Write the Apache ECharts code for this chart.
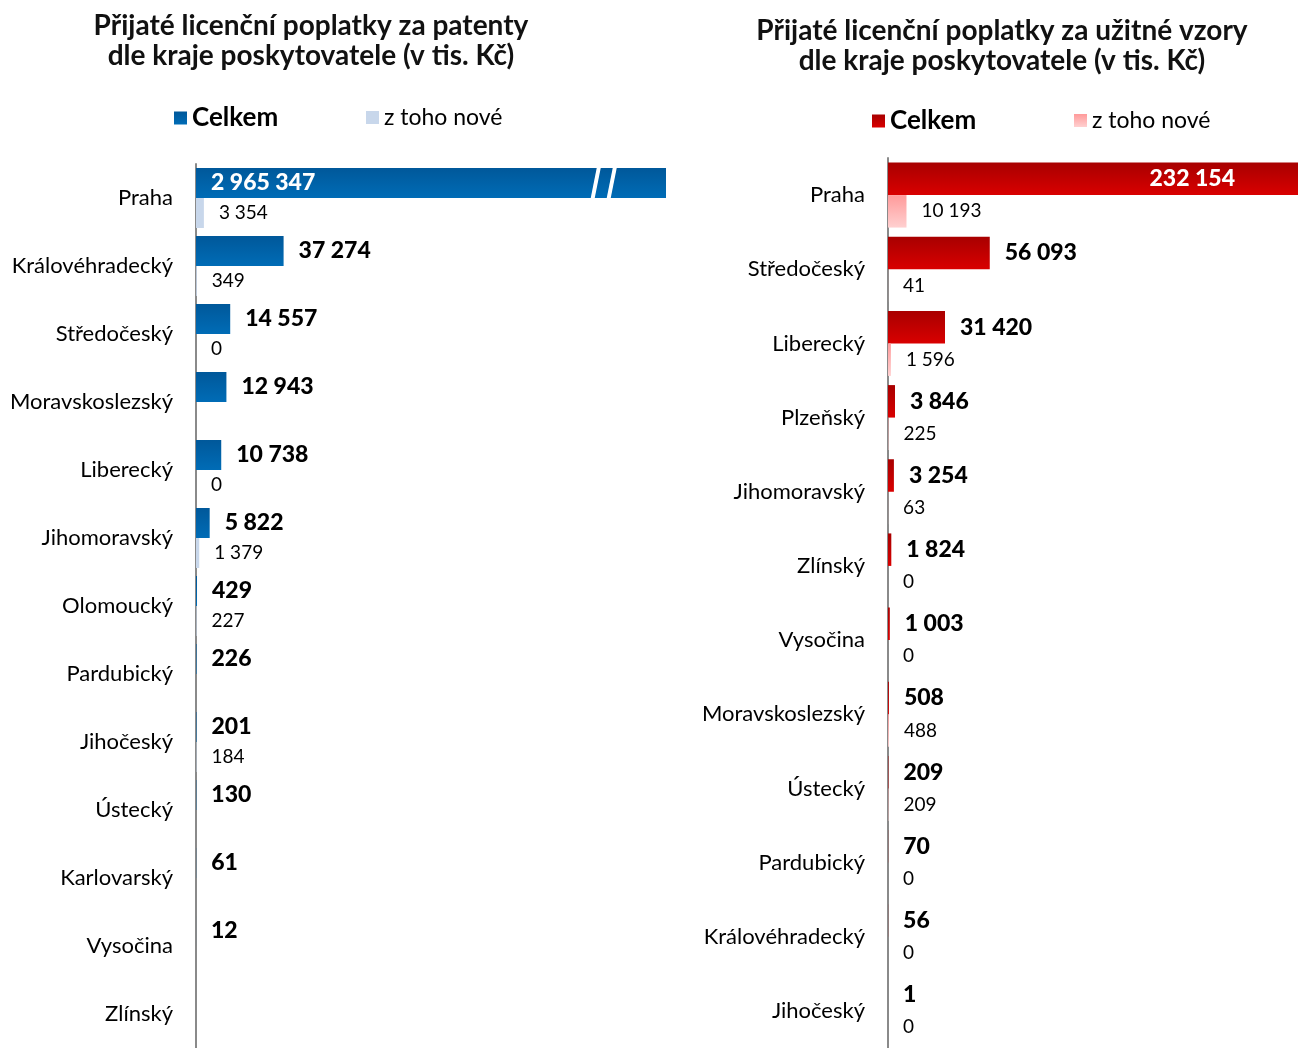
<!DOCTYPE html>
<html>
<head>
<meta charset="utf-8">
<script src="https://cdn.jsdelivr.net/npm/echarts@6/dist/echarts.min.js"></script>
<style>
html,body{margin:0;padding:0;background:#fff;}
#chart{width:1298px;height:1048px;}
</style>
</head>
<body>
<div id="chart"></div>
<script>
// ---- data ----
const leftTitle = 'Přijaté licenční poplatky za patenty\ndle kraje poskytovatele (v tis. Kč)';
const rightTitle = 'Přijaté licenční poplatky za užitné vzory\ndle kraje poskytovatele (v tis. Kč)';
const seriesNames = ['Celkem', 'z toho nové'];

const leftCategories = ['Praha','Královéhradecký','Středočeský','Moravskoslezský','Liberecký','Jihomoravský','Olomoucký','Pardubický','Jihočeský','Ústecký','Karlovarský','Vysočina','Zlínský'];
const leftTotal = [2965347, 37274, 14557, 12943, 10738, 5822, 429, 226, 201, 130, 61, 12, null];
const leftNew   = [3354, 349, 0, null, 0, 1379, 227, null, 184, null, null, null, null];
const leftAxisMax = 200000;      // axis is broken for Praha
const leftBreakValue = 173500;   // where the break marks sit on the Praha bar

const rightCategories = ['Praha','Středočeský','Liberecký','Plzeňský','Jihomoravský','Zlínský','Vysočina','Moravskoslezský','Ústecký','Pardubický','Královéhradecký','Jihočeský'];
const rightTotal = [232154, 56093, 31420, 3846, 3254, 1824, 1003, 508, 209, 70, 56, 1];
const rightNew   = [10193, 41, 1596, 225, 63, 0, 0, 488, 209, 0, 0, 0];
const rightAxisMax = 226000;

// ---- helpers ----
const FONT = 'Lato, "Open Sans", sans-serif';
function fmt(v) {
  const n = (typeof v === 'object' && v !== null) ? v.value : v;
  return String(Math.round(n)).replace(/\B(?=(\d{3})+(?!\d))/g, ' ');
}
function grad(top, bottom) {
  return new echarts.graphic.LinearGradient(0, 0, 0, 1, [
    {offset: 0, color: top}, {offset: 1, color: bottom}
  ]);
}
const blueTotal = grad('#00589a', '#006cb6');
const blueNew = '#c8d7eb';
const redTotal = grad('#a80000', '#d90000');
const redNew = grad('#ff9a9a', '#ffd0d0');

const totalLabel = {
  show: true, position: 'right', distance: 15,
  fontFamily: FONT, fontSize: 23, fontWeight: 900, color: '#000',
  formatter: p => fmt(p.value)
};
const newLabel = {
  show: true, position: 'right', distance: 15,
  fontFamily: FONT, fontSize: 19, color: '#000',
  formatter: p => fmt(p.value)
};

const chart = echarts.init(document.getElementById('chart'));

const catAxisCommon = {
  type: 'category', inverse: true,
  axisTick: {show: false},
  axisLine: {show: true, lineStyle: {color: '#8a8a8a', width: 2}},
  axisLabel: {fontFamily: FONT, fontSize: 22, color: '#000', margin: 23},
  splitLine: {show: false}
};

const titleStyle = {fontFamily: FONT, fontSize: 28, fontWeight: 'bold', color: '#111', lineHeight: 30};

const option = {
  animation: false,
  backgroundColor: '#fff',
  title: [
    {text: leftTitle, left: 311, top: 11, textAlign: 'center', padding: 0, textStyle: titleStyle},
    {text: rightTitle, left: 1002, top: 16, textAlign: 'center', padding: 0, textStyle: titleStyle}
  ],
  legend: [
    {data: [{name: 'L_total', textStyle: {fontWeight: 'bold', fontSize: 26}}], left: 174, top: 105},
    {data: ['L_new'], left: 366, top: 106},
    {data: [{name: 'R_total', textStyle: {fontWeight: 'bold', fontSize: 26}}], left: 872, top: 108},
    {data: ['R_new'], left: 1074, top: 109}
  ].map(l => Object.assign({
    icon: 'rect', itemWidth: 13, itemHeight: 13, itemGap: 0, padding: 0,
    textStyle: {fontFamily: FONT, fontSize: 23, color: '#000'},
    formatter: n => n.endsWith('total') ? seriesNames[0] : seriesNames[1]
  }, l)),
  grid: [
    {left: 196, top: 164, width: 470, bottom: 0, containLabel: false},
    {left: 888, top: 158, right: 0, bottom: -8, containLabel: false}
  ],
  xAxis: [
    {gridIndex: 0, type: 'value', min: 0, max: leftAxisMax, show: false, splitLine: {show: false}},
    {gridIndex: 1, type: 'value', min: 0, max: rightAxisMax, show: false, splitLine: {show: false}}
  ],
  yAxis: [
    Object.assign({gridIndex: 0, data: leftCategories}, catAxisCommon),
    Object.assign({gridIndex: 1, data: rightCategories}, catAxisCommon)
  ],
  series: [
    {
      name: 'L_total', type: 'bar', xAxisIndex: 0, yAxisIndex: 0,
      barWidth: 30, barGap: '0%',
      itemStyle: {color: blueTotal},
      label: totalLabel,
      data: leftTotal.map((v, i) => i === 0 ? {
        value: v,
        label: {position: 'insideLeft', distance: 15, color: '#fff'}
      } : v)
    },
    {
      name: 'L_new', type: 'bar', xAxisIndex: 0, yAxisIndex: 0,
      barWidth: 30, barGap: '0%',
      itemStyle: {color: blueNew},
      label: newLabel,
      data: leftNew
    },
    {
      name: 'breakMarks', type: 'custom', xAxisIndex: 0, yAxisIndex: 0, z: 10,
      silent: true,
      renderItem: function (params, api) {
        const c = api.coord([api.value(0), api.value(1)]);
        const x = c[0], yBot = c[1], yTop = c[1] - 30;
        function slash(x0) {
          return {
            type: 'polygon',
            shape: {points: [[x0 - 5, yBot], [x0 - 1, yBot], [x0 + 5, yTop], [x0 + 1, yTop]]},
            style: {fill: '#fff'}
          };
        }
        return {type: 'group', children: [slash(x - 8), slash(x + 8)]};
      },
      data: [[leftBreakValue, 0]]
    },
    {
      name: 'R_total', type: 'bar', xAxisIndex: 1, yAxisIndex: 1,
      barWidth: 32.5, barGap: '0%',
      itemStyle: {color: redTotal},
      label: totalLabel,
      data: rightTotal.map((v, i) => i === 0 ? {
        value: v,
        label: {position: 'insideRight', distance: 63, color: '#fff'}
      } : v)
    },
    {
      name: 'R_new', type: 'bar', xAxisIndex: 1, yAxisIndex: 1,
      barWidth: 32.5, barGap: '0%',
      itemStyle: {color: redNew},
      label: newLabel,
      data: rightNew
    }
  ]
};
chart.setOption(option);
</script>
</body>
</html>
